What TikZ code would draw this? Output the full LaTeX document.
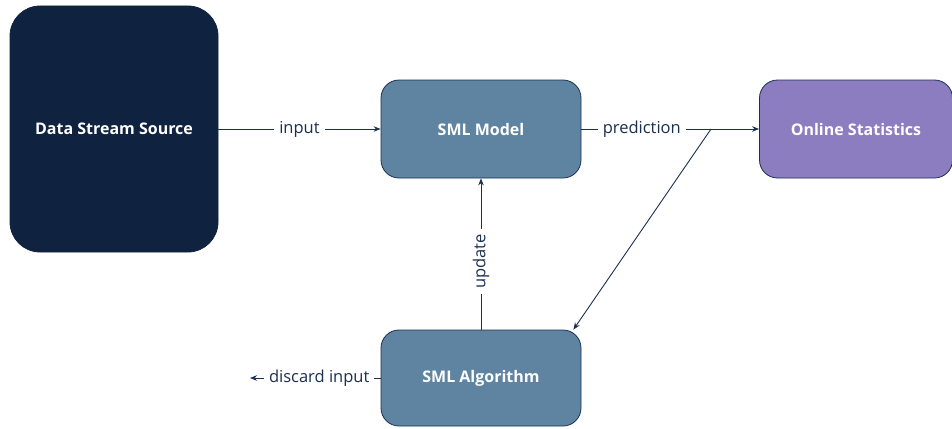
\documentclass[tikz,border=0pt]{standalone}
\usepackage{fontspec}
\setmainfont{Open Sans}
\usetikzlibrary{arrows.meta}
\definecolor{navy}{HTML}{0F2340}
\definecolor{steel}{HTML}{5F84A2}
\definecolor{lilac}{HTML}{8C7CC0}
\definecolor{wire}{HTML}{1B3050}
\begin{document}
\begin{tikzpicture}[x=1pt,y=-1pt,
  box/.style={draw=wire,line width=0.8pt,rounded corners=18pt,text=white,
    font=\fontsize{16}{19}\selectfont\bfseries,inner sep=0pt},
  wirearrow/.style={draw=wire,line width=0.9pt,-{Stealth[length=7pt,width=5.5pt]}},
  lbl/.style={fill=white,text=wire,font=\fontsize{16.5}{19}\selectfont,inner xsep=5pt,inner ysep=3pt}]
\useasboundingbox (0,0) rectangle (952,428);
\node[box,fill=navy,draw=navy,rounded corners=30pt,minimum width=208pt,minimum height=246pt] (src) at (114,129) {Data Stream Source};
\node[box,fill=steel,minimum width=200pt,minimum height=98pt] (model) at (481,129) {SML Model};
\node[box,fill=lilac,minimum width=193pt,minimum height=98pt] (stats) at (856,129) {Online Statistics};
\node[box,fill=steel,minimum width=200pt,minimum height=96pt] (algo) at (481,378) {SML Algorithm};
\coordinate (split) at (711,129);
\coordinate (discard) at (250,378);
\draw[wirearrow] (src) -- node[lbl]{input} (model);
\draw[wirearrow] (model) -- node[lbl,pos=0.34]{prediction} (stats);
\draw[wirearrow] (split) -- ([xshift=-8pt]algo.north east);
\draw[wirearrow] (algo) -- node[lbl,rotate=90,pos=0.45]{update} (model);
\draw[wirearrow] (algo) -- node[lbl,pos=0.47]{discard input} (discard);
\end{tikzpicture}
\end{document}
